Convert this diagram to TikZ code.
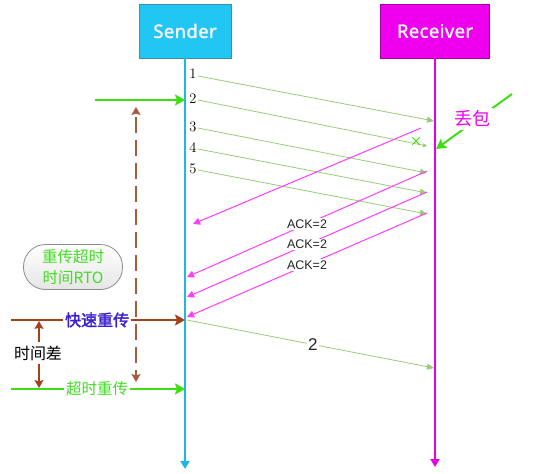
\documentclass[tikz,border=0pt]{standalone}
\usepackage{fontspec}
\newfontfamily\hdfont[FakeBold=1.8,LetterSpace=2]{Noto Sans}
\newfontfamily\ackfont{Liberation Sans}
\newfontfamily\cjk{Noto Sans CJK SC}
\newfontfamily\cjkb[FakeBold=2]{Noto Sans CJK SC}
\usetikzlibrary{arrows.meta,shapes.misc}
\definecolor{sblue}{HTML}{22C6F2}
\definecolor{sblueb}{HTML}{3A8FB0}
\definecolor{sline}{HTML}{1FB6E8}
\definecolor{rmag}{HTML}{EE00EE}
\definecolor{rmagb}{HTML}{A800A8}
\definecolor{rline}{HTML}{E600E6}
\definecolor{msggreen}{HTML}{98CC78}
\definecolor{ackpink}{HTML}{FF3CFF}
\definecolor{bgreen}{HTML}{3CE010}
\definecolor{brn}{HTML}{A3421A}
\definecolor{dbrn}{HTML}{A85A3C}
\definecolor{lgreen}{HTML}{40DD20}
\definecolor{fastblue}{HTML}{3A1FCC}
\tikzset{
  hdbox/.style={draw, line width=0.8pt, minimum height=54pt, text=white!95!blue,
    font=\hdfont\fontsize{18.5}{22}\selectfont},
  numl/.style={font=\fontsize{14.5}{16}\selectfont, inner sep=0pt},
  msg/.style={draw=msggreen, line width=0.8pt, -{Triangle[length=7pt,width=6pt]}},
  ack/.style={draw=ackpink, line width=1pt, -{Triangle[length=7pt,width=7pt]}},
  ackl/.style={fill=white, inner sep=1.5pt, text=black!85, font=\ackfont\fontsize{12.5}{14}\selectfont},
  thickg/.style={draw=bgreen, line width=2.2pt, -{Stealth[length=10pt,width=11pt,inset=2pt]}},
  thickb/.style={draw=brn, line width=2pt, -{Stealth[length=10pt,width=11pt,inset=2pt]}},
  lifeln/.style={line width=2pt, -{Triangle[length=8pt,width=9pt]}}
}
\begin{document}
\begin{tikzpicture}[x=1pt,y=-1pt]
\useasboundingbox (0,0) rectangle (550,474);
% headers
\node[hdbox, fill=sblue, draw=sblueb, minimum width=92pt] (snd) at (185,31) {Sender};
\node[hdbox, fill=rmag, draw=rmagb, minimum width=109pt] (rcv) at (435,31) {Receiver};
\coordinate (sbot) at (185,469);
\coordinate (rbot) at (435,467);
\draw[lifeln, sline] (snd.south) -- (sbot);
\draw[lifeln, rline] (rcv.south) -- (rbot);
% numbers
\node[numl] (n1) at (193,74) {1};
\node[numl] (n2) at (193,99) {2};
\node[numl] (n3) at (193,127) {3};
\node[numl] (n4) at (193,148) {4};
\node[numl] (n5) at (193,169) {5};
% message lines
\coordinate (s1) at (198,76);  \coordinate (e1) at (434,121);
\coordinate (s2) at (198,100); \coordinate (e2) at (427,146);
\coordinate (s3) at (198,128); \coordinate (e3) at (427,173);
\coordinate (s4) at (198,149); \coordinate (e4) at (427,193);
\coordinate (s5) at (198,170); \coordinate (e5) at (427,214);
\draw[msg] (s1) -- (e1);
\draw[msg, -{Triangle[length=4pt,width=4pt]}] (s2) -- (e2);
\draw[msg] (s3) -- (e3);
\draw[msg] (s4) -- (e4);
\draw[msg] (s5) -- (e5);
\node[draw=bgreen, cross out, line width=1pt, minimum size=6.5pt, inner sep=0pt] (lost) at (416,141) {};
% ACK lines
\coordinate (a1s) at (421,128); \coordinate (a1e) at (193,224);
\coordinate (a2s) at (427,171); \coordinate (a2e) at (187,277);
\coordinate (a3s) at (427,192); \coordinate (a3e) at (187,297);
\coordinate (a4s) at (427,213); \coordinate (a4e) at (187,317);
\draw[ack] (a1s) -- (a1e);
\draw[ack] (a2s) -- node[ackl, pos=0.5] (k2) {ACK=2} (a2e);
\draw[ack] (a3s) -- node[ackl, pos=0.5] (k3) {ACK=2} (a3e);
\draw[ack] (a4s) -- node[ackl, pos=0.5] (k4) {ACK=2} (a4e);
% retransmission
\coordinate (rs) at (187,320); \coordinate (re) at (434,368);
\draw[msg] (rs) -- node[fill=white, inner sep=1.5pt, text=black!85, font=\ackfont\fontsize{17}{18}\selectfont, pos=0.51] (r2) {2} (re);
% lost packet label
\coordinate (ls) at (512,94); \coordinate (le) at (436,149);
\draw[thickg, line width=2pt] (ls) -- (le);
\node[fill=white, inner sep=3pt, text=rmag, font=\cjk\fontsize{18}{20}\selectfont] (drop) at (472,119) {丢包};
% left green arrow at packet 2
\coordinate (g1s) at (95,100); \coordinate (g1e) at (185,100);
\draw[thickg] (g1s) -- (g1e);
% RTO dashed
\coordinate (dt) at (136,107); \coordinate (db) at (136,382);
\draw[draw=dbrn, line width=1.6pt, dash pattern=on 16pt off 7pt, dash phase=-4pt,
  {Stealth[length=8pt,width=9pt,inset=1.5pt]}-{Stealth[length=8pt,width=9pt,inset=1.5pt]}] (dt) -- (db);
% RTO box
\node[draw=black!45, line width=0.8pt, rounded corners=22pt, top color=white, bottom color=black!10,
  minimum width=99pt, minimum height=45pt, align=center, text=lgreen,
  font=\cjk\fontsize{15.5}{21}\selectfont] (rto) at (73,267) {重传超时\\时间RTO};
% fast retransmit
\coordinate (fs) at (11,320); \coordinate (fe) at (185,320);
\draw[thickb] (fs) -- node[fill=white, inner sep=2pt, text=fastblue, font=\cjkb\fontsize{16}{18}\selectfont, pos=0.495] (fast) {快速重传} (fe);
% timeout retransmit
\coordinate (ts) at (11,389); \coordinate (te) at (185,389);
\draw[thickg] (ts) -- node[fill=white, inner sep=2pt, text=lgreen, font=\cjk\fontsize{15.5}{18}\selectfont, pos=0.495] (tout) {超时重传} (te);
% time difference
\node[font=\cjk\fontsize{16}{18}\selectfont, inner sep=3pt] (td) at (38,353) {时间差};
\coordinate (tdt) at (39,321); \coordinate (tdb) at (39,388);
\draw[draw=brn, line width=1.5pt, -{Stealth[length=8pt,width=9pt,inset=1.5pt]}] (td.north -| tdt) -- (tdt);
\draw[draw=brn, line width=1.5pt, -{Stealth[length=8pt,width=9pt,inset=1.5pt]}] (td.south -| tdb) -- (tdb);
\end{tikzpicture}
\end{document}
